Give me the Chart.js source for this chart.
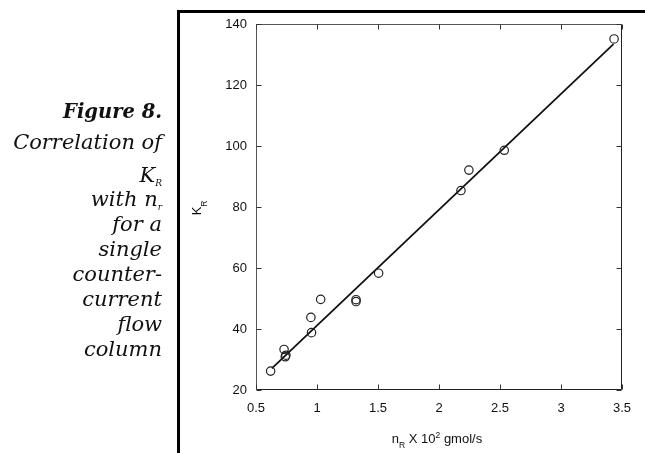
<!DOCTYPE html>
<html>
<head>
<meta charset="utf-8">
<script src="https://cdn.jsdelivr.net/npm/chart.js@4/dist/chart.umd.min.js"></script>
<style>
html,body{margin:0;padding:0;background:#fff;}
#wrap{position:relative;width:645px;height:453px;overflow:hidden;background:#fff;}
#c{position:absolute;left:0;top:0;}
#frame{position:absolute;left:177px;top:10px;width:480px;height:460px;border-top:3px solid #000;border-left:3px solid #000;box-sizing:border-box;}
.cap{position:absolute;right:483px;white-space:nowrap;font-family:"DejaVu Serif",serif;font-style:italic;font-size:21px;line-height:21px;color:#111;text-align:right;}
.cap.fig{font-weight:bold;font-size:19.5px;line-height:19.5px;}
.cap .sb{font-size:9px;position:relative;top:4px;font-style:italic;}
</style>
</head>
<body>
<div id="wrap">
<canvas id="c" width="645" height="453"></canvas>
<div id="frame"></div>
<div class="cap fig" style="top:102px">Figure 8.</div>
<div class="cap" style="top:132px">Correlation of</div>
<div class="cap" style="top:165px">K<span class="sb">R</span></div>
<div class="cap" style="top:189px">with n<span class="sb">r</span></div>
<div class="cap" style="top:214px">for a</div>
<div class="cap" style="top:239px">single</div>
<div class="cap" style="top:264px">counter-</div>
<div class="cap" style="top:289px">current</div>
<div class="cap" style="top:314px">flow</div>
<div class="cap" style="top:339px">column</div>
</div>
<script>
// Measured data (n_R x 10^2 gmol/s, K_R)
const nR = [0.62, 0.73, 0.74, 0.745, 0.95, 0.955, 1.03, 1.32, 1.32, 1.505, 2.18, 2.245, 2.535, 3.435];
const KR = [26.2, 33.3, 30.9, 31.4, 43.8, 38.8, 49.7, 49.0, 49.6, 58.3, 85.4, 92.1, 98.6, 135.1];
// Correlation line end values
const fitN = [0.63, 3.43];
const fitK = [27.1, 133.4];
// Axis ranges / tick steps
const xMin = 0.5, xMax = 3.5, xStep = 0.5;
const yMin = 20, yMax = 140, yStep = 20;
// Axis titles
const xTitle = {main:'n', sub:'R', mid:' X 10', sup:'2', tail:' gmol/s'};
const yTitle = {main:'K', sub:'R'};

const pts = nR.map((v,i)=>({x:v, y:KR[i]}));
const fit = fitN.map((v,i)=>({x:v, y:fitK[i]}));

const FONT = '"Liberation Sans", Arial, sans-serif';

const boxPlugin = {
  id:'boxTicks',
  afterDraw(chart){
    const {ctx, chartArea:a, scales:{x, y}} = chart;
    const L = Math.round(a.left)+0.5, R = Math.round(a.right)-0.5, T = Math.round(a.top)+0.5, B = Math.round(a.bottom)-0.5;
    ctx.save();
    ctx.lineWidth = 1;
    ctx.strokeStyle = '#555';
    ctx.beginPath();
    ctx.moveTo(L, B); ctx.lineTo(L, T); ctx.lineTo(R, T);
    ctx.stroke();
    ctx.strokeStyle = '#222';
    ctx.beginPath();
    ctx.moveTo(L, B); ctx.lineTo(R, B); ctx.lineTo(R, T);
    ctx.stroke();
    const tl = 5;
    ctx.strokeStyle = '#333';
    ctx.beginPath();
    x.ticks.forEach(t=>{
      const px = Math.round(x.getPixelForValue(t.value))+0.5;
      ctx.moveTo(px, B); ctx.lineTo(px, B-tl);
      ctx.moveTo(px, T); ctx.lineTo(px, T+tl);
    });
    y.ticks.forEach(t=>{
      const py = Math.round(y.getPixelForValue(t.value))+0.5;
      ctx.moveTo(L, py); ctx.lineTo(L+tl, py);
      ctx.moveTo(R, py); ctx.lineTo(R-tl, py);
    });
    ctx.stroke();

    // axis titles with sub/superscripts
    ctx.fillStyle = '#111';
    ctx.textBaseline = 'alphabetic';
    const fMain = '13px ' + FONT, fSmall = '8.5px ' + FONT;
    ctx.font = fMain;
    const wn = ctx.measureText(xTitle.main).width;
    const wm = ctx.measureText(xTitle.mid).width;
    const wt = ctx.measureText(xTitle.tail).width;
    ctx.font = fSmall;
    const ws = ctx.measureText(xTitle.sub).width;
    const wp = ctx.measureText(xTitle.sup).width;
    const total = wn + ws + wm + wp + wt;
    let cx = (a.left + a.right)/2 - 2 - total/2;
    const by = 443;
    ctx.textAlign = 'left';
    ctx.font = fMain; ctx.fillText(xTitle.main, cx, by); cx += wn;
    ctx.font = fSmall; ctx.fillText(xTitle.sub, cx, by+5); cx += ws;
    ctx.font = fMain; ctx.fillText(xTitle.mid, cx, by); cx += wm;
    ctx.font = fSmall; ctx.fillText(xTitle.sup, cx, by-5); cx += wp;
    ctx.font = fMain; ctx.fillText(xTitle.tail, cx, by);

    // y title rotated
    ctx.save();
    ctx.font = fMain;
    const wk = ctx.measureText(yTitle.main).width;
    ctx.translate(201, (a.top+a.bottom)/2 + 4 + wk/2);
    ctx.rotate(-Math.PI/2);
    ctx.fillText(yTitle.main, 0, 0);
    ctx.font = fSmall;
    ctx.fillText(yTitle.sub, wk, 6);
    ctx.restore();
    ctx.restore();
  }
};

new Chart(document.getElementById('c'), {
  type:'scatter',
  data:{
    datasets:[
      {
        label:'Correlation',
        data: fit,
        showLine:true,
        borderColor:'#111',
        borderWidth:1.8,
        pointRadius:0,
        pointHoverRadius:0,
        fill:false,
        order:2
      },
      {
        label:'K_R',
        data: pts,
        showLine:false,
        pointStyle:'circle',
        pointRadius:4.2,
        pointBorderWidth:1.2,
        borderColor:'#222',
        backgroundColor:'rgba(255,255,255,0)',
        order:1
      }
    ]
  },
  options:{
    responsive:false,
    animation:false,
    events:[],
    layout:{padding:{left:190, top:24, right:23, bottom:0}},
    plugins:{legend:{display:false}, tooltip:{enabled:false}, title:{display:false}},
    scales:{
      x:{
        type:'linear', min:xMin, max:xMax,
        grid:{display:true, drawOnChartArea:false, drawTicks:false},
        border:{display:false},
        ticks:{stepSize:xStep, color:'#111', padding:11, font:{family:FONT, size:13}, maxRotation:0,
               callback:(v)=>String(Number(v))},
        afterFit(s){ s.height = 63; }
      },
      y:{
        type:'linear', min:yMin, max:yMax,
        grid:{display:true, drawOnChartArea:false, drawTicks:false},
        border:{display:false},
        ticks:{stepSize:yStep, color:'#111', padding:9, font:{family:FONT, size:13},
               callback:(v)=>String(Number(v))},
        afterFit(s){ s.width = 66; }
      }
    }
  },
  plugins:[boxPlugin]
});
</script>
</body>
</html>
